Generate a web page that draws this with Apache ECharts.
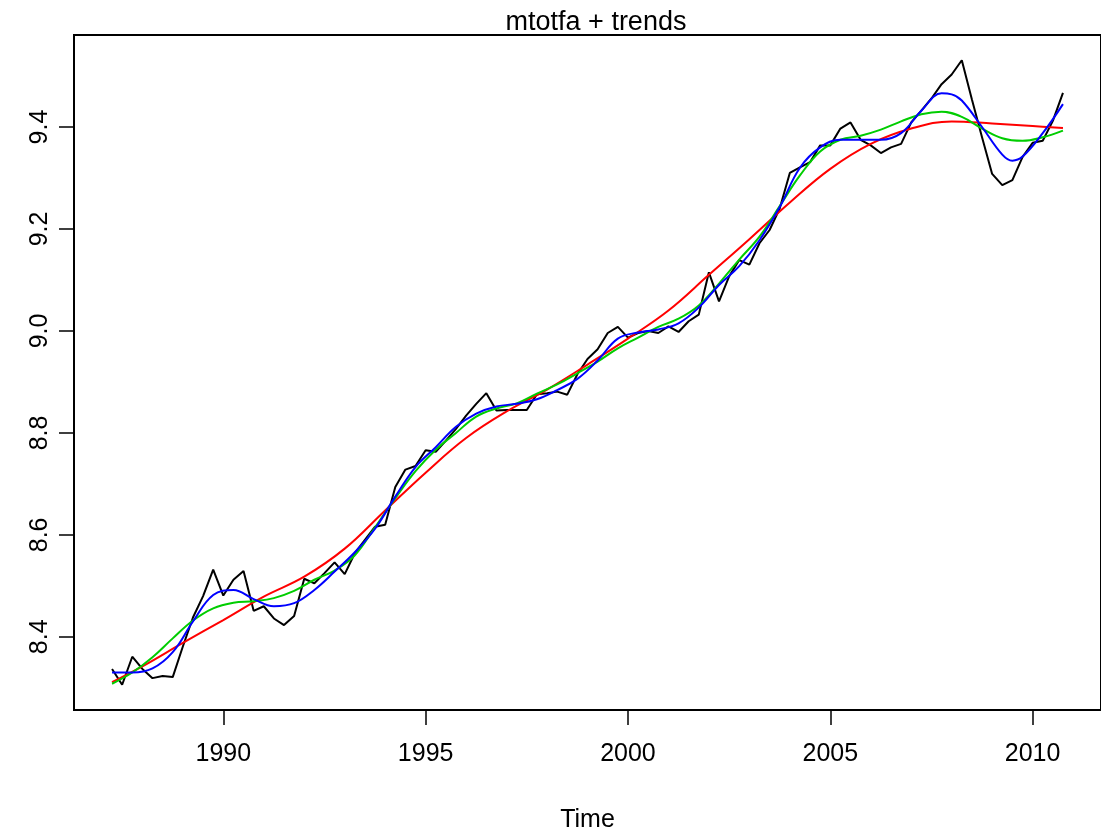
<!DOCTYPE html>
<html>
<head>
<meta charset="utf-8">
<script src="https://cdn.jsdelivr.net/npm/echarts@6/dist/echarts.min.js"></script>
<style>html,body{margin:0;padding:0;background:#fff}#c{width:1101px;height:838px}</style>
</head>
<body>
<div id="c"></div>
<script>
// quarterly series mtotfa, starting 1987 Q2
var seriesStart = 1987.25;
var seriesFreq = 4;
var mtotfa = [
  8.337, 8.306, 8.361, 8.337, 8.319, 8.323, 8.321, 8.381, 8.438, 8.480,
  8.532, 8.481, 8.512, 8.529, 8.451, 8.460, 8.436, 8.423, 8.441, 8.514,
  8.505, 8.525, 8.546, 8.523, 8.564, 8.590, 8.616, 8.620, 8.694, 8.728,
  8.735, 8.766, 8.763, 8.785, 8.808, 8.834, 8.857, 8.878, 8.844, 8.845,
  8.845, 8.845, 8.876, 8.878, 8.881, 8.875, 8.915, 8.945, 8.964, 8.996,
  9.008, 8.987, 8.996, 9.000, 8.996, 9.009, 8.998, 9.019, 9.032, 9.115,
  9.058, 9.107, 9.139, 9.130, 9.172, 9.198, 9.240, 9.310, 9.321, 9.331,
  9.364, 9.364, 9.397, 9.409, 9.375, 9.364, 9.349, 9.360, 9.367, 9.409,
  9.432, 9.456, 9.484, 9.503, 9.531, 9.454, 9.380, 9.308, 9.286, 9.296,
  9.341, 9.369, 9.373, 9.412, 9.467
];

// red trend (read yearly)
var redTimes = [1987.25, 1988, 1989, 1990, 1991, 1992, 1993, 1994, 1995, 1996, 1997, 1998,
  1999, 2000, 2001, 2002, 2003, 2004, 2005, 2006, 2007, 2008, 2009, 2010, 2010.75];
var redTrend = [8.311, 8.342, 8.388, 8.433, 8.479, 8.518, 8.573, 8.648, 8.722, 8.790, 8.842, 8.885,
  8.934, 8.985, 9.040, 9.110, 9.180, 9.252, 9.318, 9.367, 9.397, 9.411, 9.407, 9.402, 9.398];

// green trend (read half-yearly)
var greenTimes = [1987.25, 1987.75, 1988.25, 1988.75, 1989.25, 1989.75, 1990.25, 1990.75,
  1991.25, 1991.75, 1992.25, 1992.75, 1993.25, 1993.75, 1994.25, 1994.75, 1995.25, 1995.75,
  1996.25, 1996.75, 1997.25, 1997.75, 1998.25, 1998.75, 1999.25, 1999.75, 2000.25, 2000.75,
  2001.25, 2001.75, 2002.25, 2002.75, 2003.25, 2003.75, 2004.25, 2004.75, 2005.25, 2005.75,
  2006.25, 2006.75, 2007.25, 2007.75, 2008.25, 2008.75, 2009.25, 2009.75, 2010.25, 2010.75];
var greenTrend = [8.308, 8.330, 8.360, 8.397, 8.432, 8.456, 8.467, 8.470,
  8.476, 8.490, 8.512, 8.530, 8.560, 8.615, 8.672, 8.725, 8.767, 8.800,
  8.832, 8.848, 8.858, 8.877, 8.895, 8.917, 8.940, 8.966, 8.987, 9.008,
  9.024, 9.050, 9.093, 9.140, 9.185, 9.245, 9.305, 9.352, 9.375, 9.383,
  9.395, 9.411, 9.425, 9.430, 9.420, 9.397, 9.378, 9.373, 9.380, 9.393];

// blue trend (read half-yearly, plus extra readings around the 2008-2010 swing)
var blueTimes = [1987.25, 1987.75, 1988.25, 1988.75, 1989.25, 1989.75, 1990.25, 1990.75,
  1991.25, 1991.75, 1992.25, 1992.75, 1993.25, 1993.75, 1994.25, 1994.75, 1995.25, 1995.75,
  1996.25, 1996.75, 1997.25, 1997.75, 1998.25, 1998.75, 1999.25, 1999.75, 2000.25, 2000.75,
  2001.25, 2001.75, 2002.25, 2002.75, 2003.25, 2003.75, 2004.25, 2004.75, 2005.25, 2005.75,
  2006.25, 2006.75, 2007.25, 2007.75, 2008.0, 2008.25, 2008.75, 2009.25, 2009.5, 2009.75,
  2010.25, 2010.75];
var blueTrend = [8.330, 8.330, 8.338, 8.370, 8.430, 8.482, 8.492, 8.474,
  8.460, 8.466, 8.492, 8.528, 8.566, 8.612, 8.675, 8.733, 8.772, 8.812,
  8.838, 8.852, 8.857, 8.866, 8.884, 8.906, 8.942, 8.985, 8.997, 9.003,
  9.015, 9.046, 9.090, 9.127, 9.178, 9.243, 9.320, 9.360, 9.375, 9.375,
  9.375, 9.388, 9.432, 9.466, 9.464, 9.452, 9.400, 9.346, 9.334, 9.342,
  9.388, 9.445];

var xTicks = [1990, 1995, 2000, 2005, 2010];
var yTicks = [8.4, 8.6, 8.8, 9.0, 9.2, 9.4];
var titleText = 'mtotfa + trends';
var xName = 'Time';

function pairs(t, v) { return v.map(function (y, i) { return [t[i], y]; }); }
var blackData = mtotfa.map(function (y, i) { return [seriesStart + i / seriesFreq, y]; });

var FONT = '"Liberation Sans", Arial, Helvetica, sans-serif';
var chart = echarts.init(document.getElementById('c'), null, { renderer: 'canvas' });
chart.setOption({
  animation: false,
  backgroundColor: '#ffffff',
  title: {
    text: titleText,
    left: 591,
    textAlign: 'center',
    top: 4,
    textStyle: { fontFamily: FONT, fontWeight: 'normal', fontSize: 27, color: '#000' }
  },
  grid: {
    left: 74, top: 35, width: 1035, height: 680,
    show: true, borderColor: '#000', borderWidth: 2, backgroundColor: 'transparent'
  },
  xAxis: {
    type: 'value',
    min: 1986.31, max: 2011.69,
    name: xName,
    nameLocation: 'middle',
    nameGap: 98,
    nameTextStyle: { fontFamily: FONT, fontSize: 25, color: '#000' },
    axisLine: { show: false },
    splitLine: { show: false },
    axisTick: { show: true, inside: false, length: 15, customValues: xTicks, lineStyle: { color: '#000', width: 1.5 } },
    axisLabel: { customValues: xTicks, margin: 32, fontFamily: FONT, fontSize: 25, color: '#000',
      formatter: function (v) { return String(v); } }
  },
  yAxis: {
    type: 'value',
    min: 8.2565, max: 9.5805,
    axisLine: { show: false },
    splitLine: { show: false },
    axisTick: { show: true, inside: false, length: 15, customValues: yTicks, lineStyle: { color: '#000', width: 1.5 } },
    axisLabel: { customValues: yTicks, rotate: 90, margin: 21, fontFamily: FONT, fontSize: 25, color: '#000',
      formatter: function (v) { return v.toFixed(1); } }
  },
  series: [
    { type: 'line', data: blackData, showSymbol: false, symbol: 'none',
      lineStyle: { color: '#000000', width: 2 }, z: 2 },
    { type: 'line', data: pairs(redTimes, redTrend), showSymbol: false, symbol: 'none', smooth: 0.4,
      lineStyle: { color: '#ff0000', width: 2 }, z: 3 },
    { type: 'line', data: pairs(greenTimes, greenTrend), showSymbol: false, symbol: 'none', smooth: 0.4,
      lineStyle: { color: '#00cd00', width: 2 }, z: 4 },
    { type: 'line', data: pairs(blueTimes, blueTrend), showSymbol: false, symbol: 'none', smooth: 0.4,
      lineStyle: { color: '#0000ff', width: 2 }, z: 5 }
  ]
});
</script>
</body>
</html>
